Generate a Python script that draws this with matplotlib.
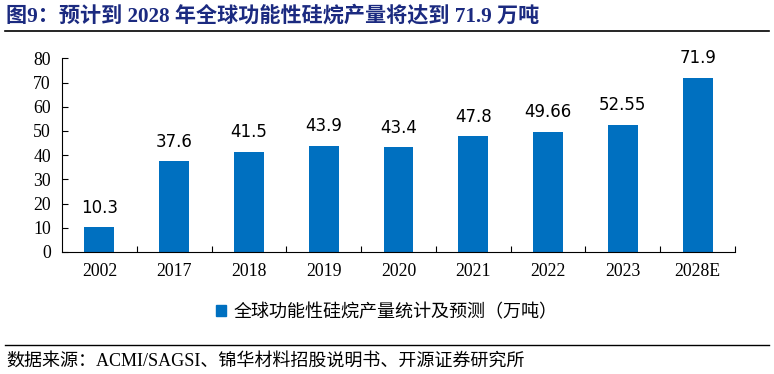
import numpy as np
import matplotlib
matplotlib.use('Agg')
import matplotlib.pyplot as plt
from matplotlib.lines import Line2D
from matplotlib.patches import Patch

plt.rcParams['font.family'] = ['Liberation Serif', 'Noto Sans CJK SC']

# data
years = ['2002', '2017', '2018', '2019', '2020', '2021', '2022', '2023', '2028E']
output = [10.3, 37.6, 41.5, 43.9, 43.4, 47.8, 49.66, 52.55, 71.9]
labels = ['10.3', '37.6', '41.5', '43.9', '43.4', '47.8', '49.66', '52.55', '71.9']
series_name = '全球功能性硅烷产量统计及预测（万吨）'
title = '图9：预计到 2028 年全球功能性硅烷产量将达到 71.9 万吨'
source = '数据来源：ACMI/SAGSI、锦华材料招股说明书、开源证券研究所'

bar_color = '#0070C0'

fig = plt.figure(figsize=(7.74, 3.74), dpi=100)
ax = fig.add_axes([62 / 774, 1 - 252 / 374, (735 - 62) / 774, (252 - 58.3) / 374])

x = np.arange(len(years))
ax.bar(x, output, width=0.4, color=bar_color)

for xi, v, lab in zip(x, output, labels):
    ax.annotate(lab, (xi, v), xytext=(0, 7.5), textcoords='offset points',
                ha='center', va='bottom', fontsize=12, family='DejaVu Sans',
                color='black')

ax.set_xlim(-0.5, len(years) - 0.5)
ax.set_ylim(0, 80)
ax.set_yticks(range(0, 81, 10))
ax.set_xticks(x)
ax.set_xticklabels(years)
ax.set_xticks(np.arange(0.5, len(years), 1.0), minor=True)
ax.tick_params(axis='x', which='major', length=0, pad=8, labelsize=12.8)
ax.tick_params(axis='x', which='minor', direction='in', length=4, width=0.8)
ax.tick_params(axis='y', direction='in', length=4, width=0.8, labelsize=12.8, pad=8)
for s in ['top', 'right']:
    ax.spines[s].set_visible(False)
for s in ['left', 'bottom']:
    ax.spines[s].set_linewidth(0.8)

fig.legend(handles=[Patch(color=bar_color, label=series_name)],
           loc='center', bbox_to_anchor=(0.5, 1 - 312 / 374), frameon=False,
           handlelength=0.55, handleheight=0.55, handletextpad=0.4,
           prop={'family': 'Noto Sans CJK SC', 'size': 13})

# title and source
fig.text(6 / 774, 1 - 16 / 374, title, fontsize=15.2, fontweight='bold',
         color='#1B2A80', ha='left', va='center')
fig.add_artist(Line2D([5 / 774, 769 / 774], [1 - 31 / 374, 1 - 31 / 374],
                      color='black', lw=1.2, transform=fig.transFigure))
fig.add_artist(Line2D([5 / 774, 769 / 774], [1 - 345 / 374, 1 - 345 / 374],
                      color='black', lw=1.0, transform=fig.transFigure))
fig.text(6 / 774, 1 - 361 / 374, source, fontsize=13, color='black',
         ha='left', va='center')

fig.savefig('out.png', dpi=100)
